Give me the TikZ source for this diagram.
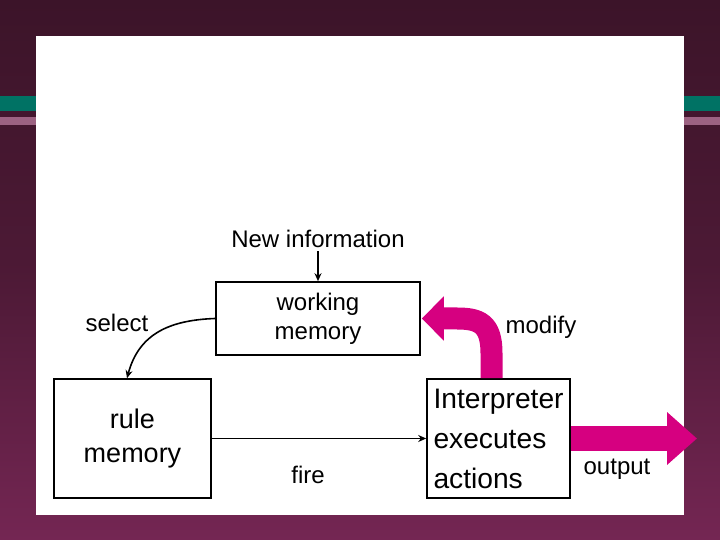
\documentclass[tikz,border=0pt]{standalone}
\usepackage{fontspec}
\setmainfont{Liberation Sans}
\usetikzlibrary{arrows.meta,positioning}
\definecolor{roxoesc}{RGB}{60,20,41}
\definecolor{roxocla}{RGB}{116,38,83}
\definecolor{verdefaixa}{RGB}{0,114,100}
\definecolor{rosafaixa}{RGB}{156,98,130}
\definecolor{rosaforte}{RGB}{214,0,128}
\tikzset{
  caixa/.style={draw,line width=1.6pt,align=center,inner sep=0pt},
  rotulo/.style={font=\fontsize{24pt}{29pt}\selectfont,anchor=base,inner sep=3pt},
  seta/.style={line width=1.6pt,-{Stealth[length=8pt,width=7pt]}},
  setagrossa/.style={draw=rosaforte},
}
\begin{document}
\begin{tikzpicture}[x=1pt,y=1pt]
  %fundo
  \useasboundingbox (0,0) rectangle (720,540);
  \shade[top color=roxoesc,bottom color=roxocla,middle color=roxoesc!70!roxocla] (0,0) rectangle (720,540);
  \fill[verdefaixa] (0,429) rectangle (720,444);
  \fill[rosafaixa] (0,415) rectangle (720,423);
  \fill[white] (36,25) rectangle (684,504);

  %caixas
  \node[caixa,minimum width=204pt,minimum height=73pt,font=\fontsize{24pt}{29pt}\selectfont] (wm) at (318,221.5) {working\\memory};
  \node[caixa,minimum width=157pt,minimum height=119pt,font=\fontsize{27pt}{34pt}\selectfont] (regras) at (132.5,101.5) {rule\\memory};
  \node[caixa,minimum width=143pt,minimum height=119pt,text width=130pt,align=left,font=\fontsize{28.2pt}{40pt}\selectfont] (interp) at (498.5,101.5) {Interpreter\\executes\\actions};

  %rotulos
  \node[rotulo] (novo) at (318,292) {New information};
  \node[rotulo] (sel) at (117,208.3) {select};
  \node[rotulo] (fogo) at (308,56.7) {fire};
  \node[rotulo] (modif) at (541,206.7) {modify};
  \node[rotulo] (saida) at (617,65) {output};
  \coordinate (ponta) at (697,101.5);

  %setas finas
  \draw[seta] (novo.south) -- (wm.north);
  \draw[seta] (wm.west) to[out=182,in=75,looseness=1.1] ([xshift=-5.5pt]regras.north);
  \draw[seta] (regras.east) -- (interp.west);

  %setas grossas
  \draw[setagrossa,line width=22pt,-{Triangle[length=22pt,width=43pt]}]
    ([xshift=-7pt]interp.north) -- ++(0,25) .. controls +(0,30) and +(22,0) .. ([xshift=36pt]wm.east) -- ([xshift=1pt]wm.east);
  \draw[setagrossa,line width=25pt,-{Triangle[length=30pt,width=51pt]}]
    (interp.east) -- (ponta);
\end{tikzpicture}
\end{document}
